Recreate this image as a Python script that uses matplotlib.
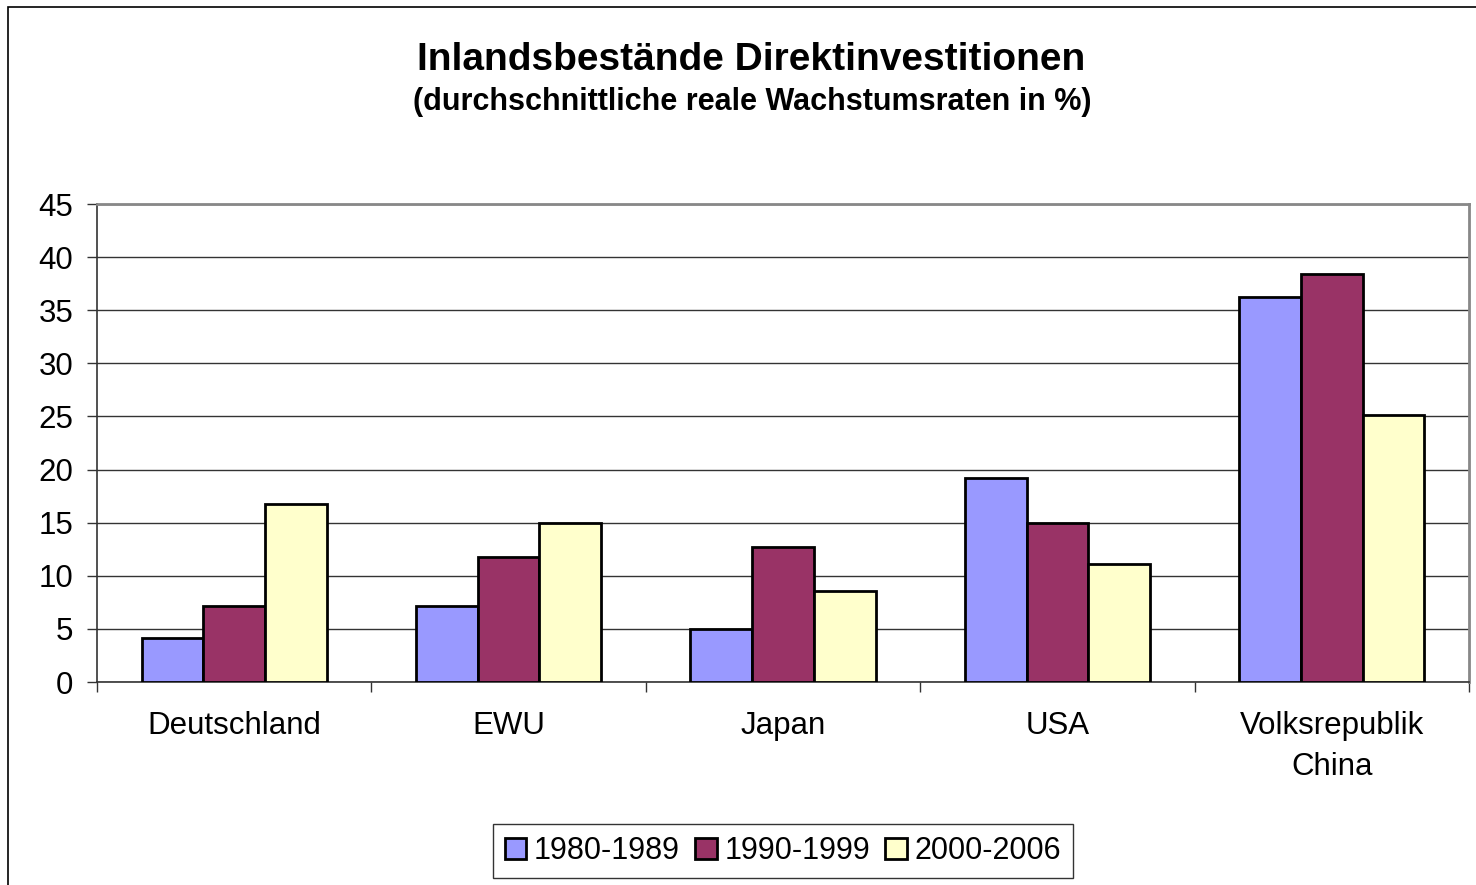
import matplotlib.pyplot as plt
import numpy as np
from matplotlib.patches import Rectangle

plt.rcParams['font.family'] = ['Liberation Sans', 'DejaVu Sans']

laender = ['Deutschland', 'EWU', 'Japan', 'USA', 'Volksrepublik\nChina']
perioden = ['1980-1989', '1990-1999', '2000-2006']
w1980 = [4.1, 7.2, 5.0, 19.2, 36.2]
w1990 = [7.2, 11.8, 12.7, 15.0, 38.4]
w2000 = [16.8, 15.0, 8.6, 11.1, 25.1]
farben = ['#9999FF', '#993366', '#FFFFCC']

fig = plt.figure(figsize=(14.76, 8.85), dpi=100)
ax = fig.add_axes([97/1476, 1-682/885, (1469-97)/1476, (682-204)/885])

# outer chart frame (right and bottom edges lie outside the image)
fig.patches.append(Rectangle((8/1476, -0.1), 1.2, 1.1-7/885, transform=fig.transFigure,
                             fill=False, edgecolor='black', linewidth=1.2))

x = np.arange(len(laender))
bw = 0.225
for i, (werte, farbe, lab) in enumerate(zip([w1980, w1990, w2000], farben, perioden)):
    ax.bar(x + (i - 1) * bw, werte, bw, color=farbe, edgecolor='black',
           linewidth=2, label=lab, zorder=3)

ax.set_xlim(-0.5, len(laender) - 0.5)
ax.set_ylim(0, 45)
ax.set_yticks(range(0, 46, 5))
ax.yaxis.grid(True, color='#333333', linewidth=1, zorder=0)
ax.set_xticks(x)
ax.set_xticklabels(laender, fontsize=22.5, linespacing=1.45)
ax.set_xticks(np.arange(-0.5, len(laender)), minor=True)
ax.tick_params(axis='x', which='major', length=0, pad=21)
ax.tick_params(axis='x', which='minor', length=7, width=1, color='#333333')
ax.tick_params(axis='y', labelsize=22.5, length=7, width=1, color='#333333', pad=10)

for s in ['top', 'right']:
    ax.spines[s].set_color('#888888')
    ax.spines[s].set_linewidth(2)
ax.spines['left'].set_color('#333333')
ax.spines['bottom'].set_color('#333333')
ax.spines['left'].set_linewidth(1.2)
ax.spines['bottom'].set_linewidth(1.2)

fig.text(751/1476, 1-60/885, 'Inlandsbestände Direktinvestitionen', ha='center',
         va='center', fontsize=28, fontweight='bold')
fig.text(752/1476, 1-102/885, '(durchschnittliche reale Wachstumsraten in %)', ha='center',
         va='center', fontsize=22, fontweight='bold')

leg = fig.legend(loc='center', bbox_to_anchor=(783/1476, 1-851/885), ncol=3,
                 fontsize=22, frameon=True, fancybox=False, edgecolor='black',
                 handlelength=0.7, handleheight=0.7, handletextpad=0.25,
                 columnspacing=0.5, borderpad=0.4)
leg.get_frame().set_linewidth(1)

fig.savefig('out.png', dpi=100)
